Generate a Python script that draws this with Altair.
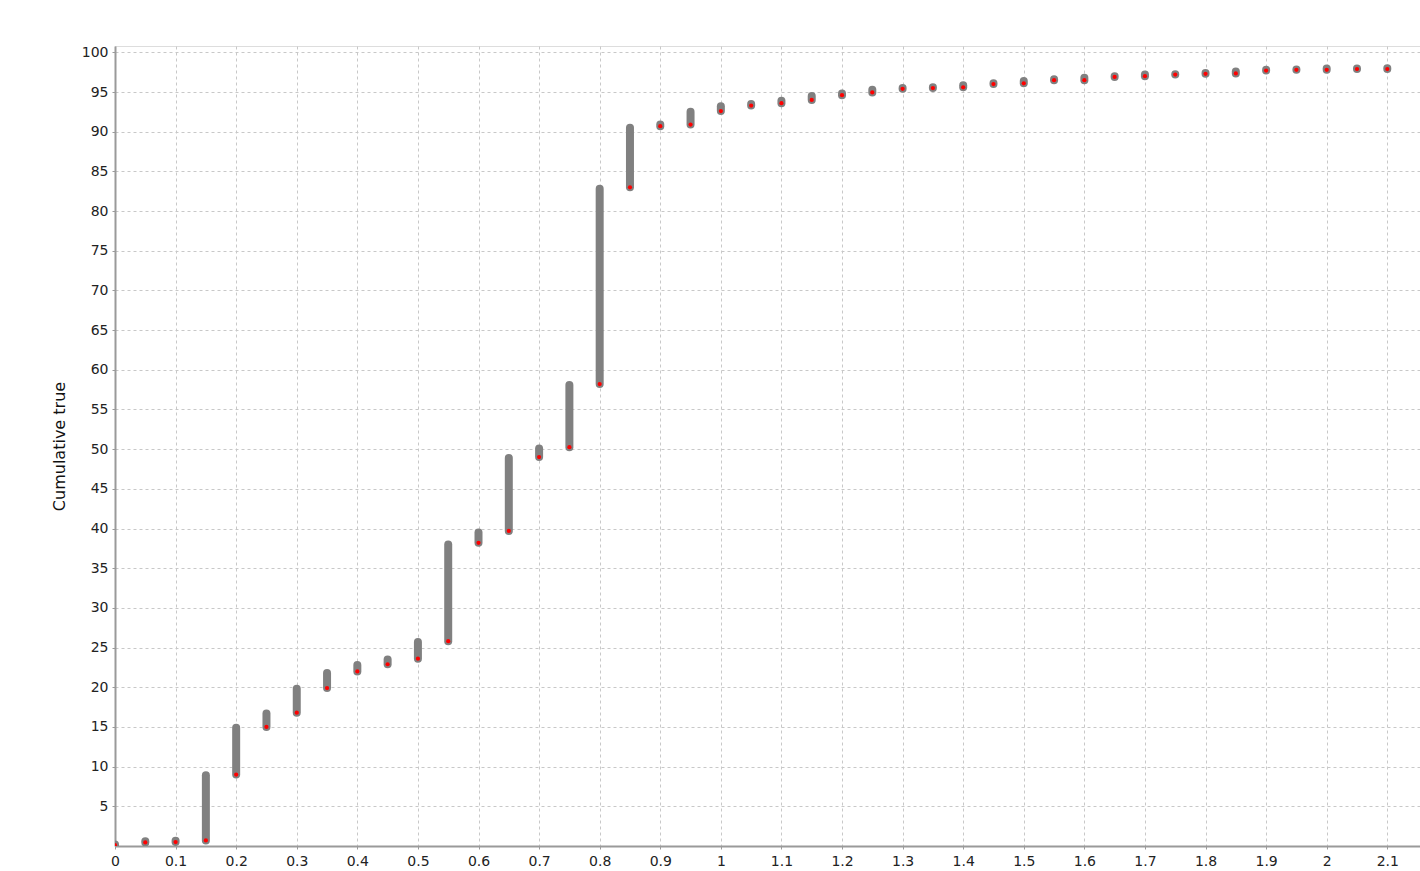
import altair as alt
import pandas as pd

# Step values on the x axis
x_vals = [0.0, 0.05, 0.1, 0.15, 0.2, 0.25, 0.3, 0.35, 0.4, 0.45,
          0.5, 0.55, 0.6, 0.65, 0.7, 0.75, 0.8, 0.85, 0.9, 0.95,
          1.0, 1.05, 1.1, 1.15, 1.2, 1.25, 1.3, 1.35, 1.4, 1.45,
          1.5, 1.55, 1.6, 1.65, 1.7, 1.75, 1.8, 1.85, 1.9, 1.95,
          2.0, 2.05, 2.1]

# Lower end of each range (red dots)
low_vals = [0.1, 0.45, 0.5, 0.7, 9.0, 15.0, 16.8, 19.9, 22.0, 22.9,
            23.6, 25.8, 38.2, 39.7, 49.0, 50.25, 58.2, 83.0, 90.7, 90.9,
            92.6, 93.3, 93.6, 94.0, 94.6, 94.95, 95.4, 95.5, 95.6, 96.0,
            96.1, 96.5, 96.5, 96.9, 97.0, 97.2, 97.3, 97.35, 97.7, 97.8,
            97.8, 97.9, 97.9]

# Upper end of each range (top of the grey bars)
high_vals = [0.2, 0.6, 0.65, 8.9, 14.9, 16.7, 19.8, 21.8, 22.8, 23.5,
             25.7, 38.0, 39.5, 48.9, 50.1, 58.1, 82.8, 90.5, 90.9, 92.5,
             93.2, 93.5, 93.9, 94.5, 94.8, 95.3, 95.5, 95.6, 95.85, 96.1,
             96.4, 96.6, 96.8, 97.0, 97.2, 97.25, 97.4, 97.6, 97.8, 97.85,
             97.95, 97.95, 98.0]

x_ticks = [round(i * 0.1, 1) for i in range(0, 22)]
y_ticks = list(range(5, 101, 5))

df = pd.DataFrame({"x": x_vals, "low": low_vals, "high": high_vals})

x_scale = alt.Scale(domain=[0, 2.154], nice=False, zero=False)
y_scale = alt.Scale(domain=[0, 100.8], nice=False, zero=False)

x_axis = alt.Axis(values=x_ticks, format=".1~f", title=None,
                  grid=True, gridDash=[3, 3], gridColor="#c8c8c8",
                  domainColor="#9a9a9a", domainWidth=2,
                  tickColor="#9a9a9a", tickSize=3, labelPadding=5,
                  labelFlush=False, labelOverlap=False,
                  labelFont="DejaVu Sans", labelFontSize=14, labelColor="#222222")
y_axis = alt.Axis(values=y_ticks, title="Cumulative true",
                  grid=True, gridDash=[3, 3], gridColor="#c8c8c8",
                  domainColor="#9a9a9a", domainWidth=2,
                  tickColor="#9a9a9a", tickSize=3, labelPadding=4,
                  labelFlush=False, labelOverlap=False,
                  labelFont="DejaVu Sans", labelFontSize=14, labelColor="#222222",
                  titleFont="DejaVu Sans", titleFontSize=16, titleFontWeight="normal",
                  titleColor="#111111", titlePadding=14)

base = alt.Chart(df)

bars = base.mark_rule(color="#808080", strokeWidth=8, strokeCap="round", clip=True).encode(
    x=alt.X("x:Q", scale=x_scale, axis=x_axis),
    y=alt.Y("low:Q", scale=y_scale, axis=y_axis),
    y2="high:Q",
)

dots = base.mark_point(filled=True, shape="circle", color="#ff0000", size=18,
                       opacity=1, clip=True).encode(
    x=alt.X("x:Q", scale=x_scale),
    y=alt.Y("low:Q", scale=y_scale),
)

chart = alt.layer(bars, dots).properties(
    width=1305, height=800,
    autosize=alt.AutoSizeParams(type="none"),
    padding={"left": 115, "top": 46, "right": 0, "bottom": 25},
).configure_view(stroke="#9a9a9a", strokeWidth=2).configure(background="white")

chart.save("out.html", embed_options={"renderer": "svg", "actions": False})
